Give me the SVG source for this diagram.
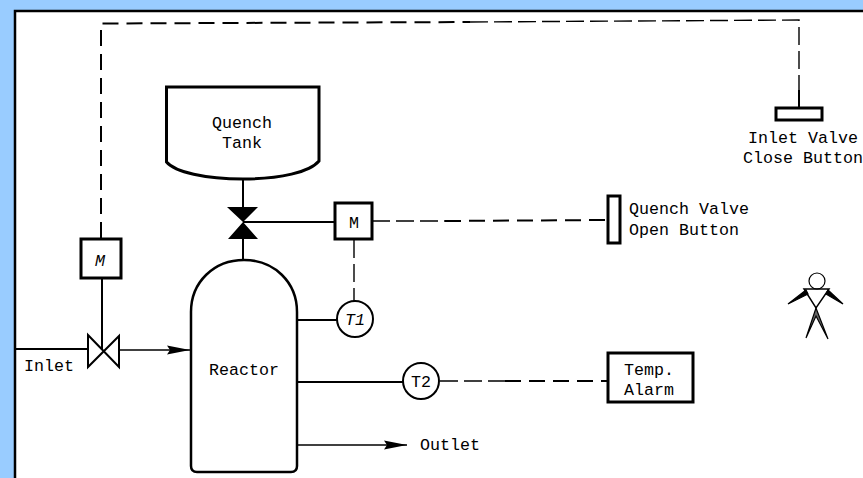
<svg xmlns="http://www.w3.org/2000/svg" width="863" height="478" viewBox="0 0 863 478">
<style>
.s{fill:none;stroke:#000;stroke-width:2}
.b{fill:#fff;stroke:#000;stroke-width:3}
.t{fill:none;stroke:#000;stroke-width:1.5}
.d{fill:none;stroke:#000;stroke-width:2;stroke-dasharray:16 8}
.n{fill:none;stroke:#000;stroke-width:1.4;stroke-dasharray:18 6}
text{font-family:"Liberation Mono",monospace;font-size:16.67px;fill:#000;text-anchor:middle}
.l{text-anchor:start}
</style>
<defs>
<marker id="a" markerUnits="userSpaceOnUse" markerWidth="24" markerHeight="10" refX="23" refY="5" orient="auto"><path d="M0 .5L23 5L0 9.500L3 5Z" fill="#000"/></marker>
</defs>
<rect width="863" height="478" fill="#99ccff"/>
<rect x="15" y="11" width="850" height="470" fill="#fff" stroke="#000" stroke-width="2.500"/>
<g id="connectors">
<path class="d" d="M101 238V23.500L470 22"/>
<path class="n" d="M470 22L799 20V90"/>
<path class="s" d="M799 90V108M243 180V208M243 238V261M243 222H336M102 278V350M15 349H89"/>
<path class="n" d="M372 221H445"/>
<path class="d" d="M445 221L607 220"/>
<path class="n" d="M354 240V301"/>
<path class="t" d="M119 350H190" marker-end="url(#a)"/>
<path class="s" d="M297 320H337M297 382H403"/>
<path class="n" d="M440 381H505"/>
<path class="d" d="M505 381H608"/>
<path class="t" d="M297 445H407" marker-end="url(#a)"/>
</g>
<g id="quench-tank">
<path class="b" d="M166.500 87H319V161C310 172 280 179 243 179C205 179 175 172 166.500 162Z"/>
<text x="242" y="128">Quench</text><text x="242" y="148">Tank</text>
</g>
<g id="quench-valve"><path d="M227 207H258L243 222L258 239H228L243 222Z" fill="#000"/></g>
<g id="quench-motor"><rect class="b" x="335" y="203" width="37" height="36"/><text x="354" y="228">M</text></g>
<g id="quench-button"><rect class="b" x="608" y="196" width="12" height="47"/>
<text class="l" x="629" y="214">Quench Valve</text><text class="l" x="629" y="235">Open Button</text></g>
<g id="close-button"><rect class="b" x="776" y="108" width="46" height="12"/>
<text x="803" y="143">Inlet Valve</text><text x="803" y="163">Close Button</text></g>
<g id="inlet-motor"><rect class="b" x="81" y="239" width="40" height="39"/><text x="100" y="266" font-style="italic">M</text></g>
<g id="inlet-valve"><path d="M88 335L119 367V336L88 367Z" fill="#fff" stroke="#000" stroke-width="2"/></g>
<text id="inlet-label" x="49" y="371">Inlet</text>
<g id="reactor">
<path class="b" style="stroke-width:2.500" d="M191 312C191 282 214 260 244 260C274 260 297 282 297 312V466Q297 472 291 472H197Q191 472 191 466Z"/>
<text x="244" y="375">Reactor</text>
</g>
<g id="t1"><circle cx="355" cy="319" r="18" class="b" style="stroke-width:2"/><text x="355" y="325" font-style="italic">T1</text></g>
<g id="t2"><circle cx="421" cy="381" r="18" class="b" style="stroke-width:2"/><text x="421" y="387">T2</text></g>
<g id="alarm"><rect class="b" x="608" y="353" width="85" height="49"/>
<text x="649" y="375">Temp.</text><text x="649" y="395">Alarm</text></g>
<text id="outlet-label" x="450" y="450">Outlet</text>
<g id="operator" fill="none" stroke="#000" stroke-width="1.200">
<circle cx="817" cy="281" r="8"/>
<path d="M804 289H829L816 308Z" stroke-width="1.500"/>
<path d="M806 290L788 304L808 294ZM828 290L843 304L826 294Z" fill="#000"/>
<path d="M816 308L806 338L816 316L828 339Z" fill="#000" fill-opacity=".6"/>
</g>
</svg>
